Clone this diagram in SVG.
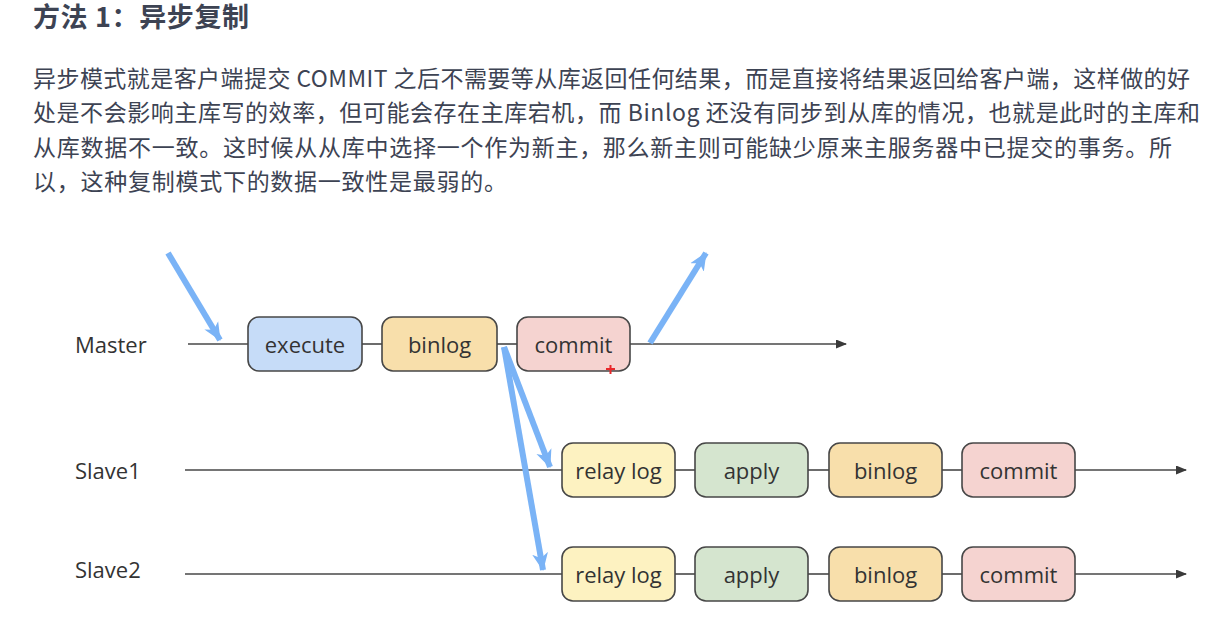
<svg xmlns="http://www.w3.org/2000/svg" width="1224" height="620" viewBox="0 0 1224 620">
<defs>
<style>
.cn{font-family:"Noto Sans CJK SC","Noto Sans",sans-serif;fill:#3d4353}
.title{font-size:27px;font-weight:bold}
.para{font-size:23px}
.lbl{font-family:"Open Sans","Liberation Sans",sans-serif;font-size:22px;fill:#333333}
.row{font-family:"Open Sans","Liberation Sans",sans-serif;font-size:22px;fill:#333333}
.box{stroke:#474747;stroke-width:1.6}
.exec{fill:#c6dcf8}
.bin{fill:#f8dfab}
.com{fill:#f5d3d0}
.relay{fill:#fdf2c1}
.apply{fill:#d5e5cf}
.ln{stroke:#474747;stroke-width:1.6;fill:none}
.blue{stroke:#7ab3f6;stroke-width:6;fill:none;stroke-linecap:butt}
</style>
<marker id="ah" markerUnits="userSpaceOnUse" markerWidth="11" markerHeight="9" refX="10" refY="4.5" orient="auto">
<path d="M0,0 L11,4.5 L0,9 z" fill="#3a3a3a"/>
</marker>
<marker id="bh" markerUnits="userSpaceOnUse" markerWidth="20" markerHeight="18" refX="17" refY="9" orient="auto">
<path d="M0,1 L18,9 L0,17 L5,9 z" fill="#7ab3f6"/>
</marker>
</defs>
<rect width="1224" height="620" fill="#ffffff"/>

<g id="heading">
<text class="cn title" x="33" y="27" textLength="216" lengthAdjust="spacing">方法 1：异步复制</text>
</g>
<g id="paragraph" class="cn para">
<text x="33" y="87" textLength="1157" lengthAdjust="spacing">异步模式就是客户端提交 COMMIT 之后不需要等从库返回任何结果，而是直接将结果返回给客户端，这样做的好</text>
<text x="33" y="121" textLength="1167" lengthAdjust="spacing">处是不会影响主库写的效率，但可能会存在主库宕机，而 Binlog 还没有同步到从库的情况，也就是此时的主库和</text>
<text x="33" y="156" textLength="1139" lengthAdjust="spacing">从库数据不一致。这时候从从库中选择一个作为新主，那么新主则可能缺少原来主服务器中已提交的事务。所</text>
<text x="33" y="190" textLength="474" lengthAdjust="spacing">以，这种复制模式下的数据一致性是最弱的。</text>
</g>

<g id="labels">
<text class="lbl" x="75" y="353">Master</text>
<text class="lbl" x="75" y="479">Slave1</text>
<text class="lbl" x="75" y="578">Slave2</text>
</g>

<g id="connectors">
<line class="ln" x1="188" y1="344" x2="248" y2="344"/>
<line class="ln" x1="362" y1="344" x2="382" y2="344"/>
<line class="ln" x1="497" y1="344" x2="517" y2="344"/>
<line class="ln" x1="630" y1="344" x2="846" y2="344" marker-end="url(#ah)"/>

<line class="ln" x1="185" y1="470" x2="562" y2="470"/>
<line class="ln" x1="675" y1="470" x2="695" y2="470"/>
<line class="ln" x1="808" y1="470" x2="829" y2="470"/>
<line class="ln" x1="942" y1="470" x2="962" y2="470"/>
<line class="ln" x1="1075" y1="470" x2="1186" y2="470" marker-end="url(#ah)"/>

<line class="ln" x1="185" y1="574" x2="562" y2="574"/>
<line class="ln" x1="675" y1="574" x2="695" y2="574"/>
<line class="ln" x1="808" y1="574" x2="829" y2="574"/>
<line class="ln" x1="942" y1="574" x2="962" y2="574"/>
<line class="ln" x1="1075" y1="574" x2="1186" y2="574" marker-end="url(#ah)"/>
</g>

<g id="master-execute">
<rect class="box exec" x="248" y="317" width="114" height="54" rx="11"/>
<text class="row" x="305" y="353" text-anchor="middle">execute</text>
</g>
<g id="master-binlog">
<rect class="box bin" x="382" y="317" width="115" height="54" rx="11"/>
<text class="row" x="439.5" y="353" text-anchor="middle">binlog</text>
</g>
<g id="master-commit">
<rect class="box com" x="517" y="317" width="113" height="54" rx="11"/>
<text class="row" x="573.5" y="353" text-anchor="middle">commit</text>
</g>

<g id="slave1-relaylog">
<rect class="box relay" x="562" y="443" width="113" height="54" rx="11"/>
<text class="row" x="618.5" y="479" text-anchor="middle">relay log</text>
</g>
<g id="slave1-apply">
<rect class="box apply" x="695" y="443" width="113" height="54" rx="11"/>
<text class="row" x="751.5" y="479" text-anchor="middle">apply</text>
</g>
<g id="slave1-binlog">
<rect class="box bin" x="829" y="443" width="113" height="54" rx="11"/>
<text class="row" x="885.5" y="479" text-anchor="middle">binlog</text>
</g>
<g id="slave1-commit">
<rect class="box com" x="962" y="443" width="113" height="54" rx="11"/>
<text class="row" x="1018.5" y="479" text-anchor="middle">commit</text>
</g>

<g id="slave2-relaylog">
<rect class="box relay" x="562" y="547" width="113" height="54" rx="11"/>
<text class="row" x="618.5" y="583" text-anchor="middle">relay log</text>
</g>
<g id="slave2-apply">
<rect class="box apply" x="695" y="547" width="113" height="54" rx="11"/>
<text class="row" x="751.5" y="583" text-anchor="middle">apply</text>
</g>
<g id="slave2-binlog">
<rect class="box bin" x="829" y="547" width="113" height="54" rx="11"/>
<text class="row" x="885.5" y="583" text-anchor="middle">binlog</text>
</g>
<g id="slave2-commit">
<rect class="box com" x="962" y="547" width="113" height="54" rx="11"/>
<text class="row" x="1018.5" y="583" text-anchor="middle">commit</text>
</g>

<g id="annotations">
<line class="blue" x1="168" y1="253" x2="220" y2="340" marker-end="url(#bh)"/>
<line class="blue" x1="650" y1="343" x2="706" y2="253" marker-end="url(#bh)"/>
<line class="blue" x1="504" y1="347" x2="550" y2="467" marker-end="url(#bh)"/>
<line class="blue" x1="504" y1="347" x2="543" y2="570" marker-end="url(#bh)"/>
</g>

<g id="cursor">
<line x1="606" y1="369" x2="615" y2="369" stroke="#e8282a" stroke-width="2"/>
<line x1="610.5" y1="365" x2="610.5" y2="374" stroke="#e8282a" stroke-width="2"/>
</g>
</svg>
